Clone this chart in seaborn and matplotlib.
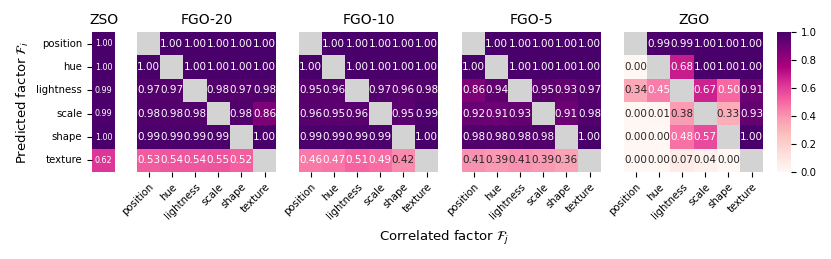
import numpy as np
import matplotlib
matplotlib.use("Agg")
import matplotlib.pyplot as plt
import seaborn as sns

factors = ["position", "hue", "lightness", "scale", "shape", "texture"]
nan = np.nan

zso = [1.00, 1.00, 0.99, 0.99, 1.00, 0.62]

fgo_20 = [
    [nan, 1.00, 1.00, 1.00, 1.00, 1.00],
    [1.00, nan, 1.00, 1.00, 1.00, 1.00],
    [0.97, 0.97, nan, 0.98, 0.97, 0.98],
    [0.98, 0.98, 0.98, nan, 0.98, 0.86],
    [0.99, 0.99, 0.99, 0.99, nan, 1.00],
    [0.53, 0.54, 0.54, 0.55, 0.52, nan],
]

fgo_10 = [
    [nan, 1.00, 1.00, 1.00, 1.00, 1.00],
    [1.00, nan, 1.00, 1.00, 1.00, 1.00],
    [0.95, 0.96, nan, 0.97, 0.96, 0.98],
    [0.96, 0.95, 0.96, nan, 0.95, 0.99],
    [0.99, 0.99, 0.99, 0.99, nan, 1.00],
    [0.46, 0.47, 0.51, 0.49, 0.42, nan],
]

fgo_5 = [
    [nan, 1.00, 1.00, 1.00, 1.00, 1.00],
    [1.00, nan, 1.00, 1.00, 1.00, 1.00],
    [0.86, 0.94, nan, 0.95, 0.93, 0.97],
    [0.92, 0.91, 0.93, nan, 0.91, 0.98],
    [0.98, 0.98, 0.98, 0.98, nan, 1.00],
    [0.41, 0.39, 0.41, 0.39, 0.36, nan],
]

zgo = [
    [nan, 0.99, 0.99, 1.00, 1.00, 1.00],
    [0.00, nan, 0.68, 1.00, 1.00, 1.00],
    [0.34, 0.45, nan, 0.67, 0.50, 0.91],
    [0.00, 0.01, 0.38, nan, 0.33, 0.93],
    [0.00, 0.00, 0.48, 0.57, nan, 1.00],
    [0.00, 0.00, 0.07, 0.04, 0.00, nan],
]

panels = [("FGO-20", fgo_20), ("FGO-10", fgo_10), ("FGO-5", fgo_5), ("ZGO", zgo)]

fig = plt.figure(figsize=(8.31, 2.59), dpi=100)

bottom, height = 0.336, 0.54
cell_w = 23.2 / 831

# ZSO single column
ax0 = fig.add_axes([0.1107, bottom, cell_w, height])
sns.heatmap(np.array(zso).reshape(-1, 1), ax=ax0, cmap="RdPu", vmin=0, vmax=1,
            annot=True, fmt=".2f", annot_kws={"fontsize": 5.8}, cbar=False,
            xticklabels=False, yticklabels=factors)
ax0.set_title("ZSO", fontsize=10)
ax0.tick_params(axis="y", labelsize=7.3, length=3.5, width=0.8, left=True)
ax0.set_yticklabels(factors, rotation=0)
ax0.set_ylabel(r"Predicted factor $\mathcal{F}_i$", fontsize=9.5)

lefts = [137 / 831, 299 / 831, 462 / 831, 624 / 831]
cax = fig.add_axes([777 / 831, bottom, 14 / 831, height])

for i, ((name, vals), left) in enumerate(zip(panels, lefts)):
    ax = fig.add_axes([left, bottom, 6 * cell_w, height])
    ax.set_facecolor("lightgray")
    last = i == len(panels) - 1
    sns.heatmap(np.array(vals), ax=ax, cmap="RdPu", vmin=0, vmax=1,
                annot=True, fmt=".2f", annot_kws={"fontsize": 7.5},
                cbar=last, cbar_ax=cax if last else None,
                xticklabels=factors, yticklabels=False)
    ax.set_title(name, fontsize=10)
    ax.tick_params(axis="x", labelsize=7.3, length=3.5, width=0.8, bottom=True)
    ax.set_xticklabels(factors, rotation=45, ha="right", rotation_mode="anchor")

cax.tick_params(labelsize=7.3, length=3.5, width=0.8, right=True)
cax.set_yticks([0, 0.2, 0.4, 0.6, 0.8, 1.0])
cax.set_yticklabels(["0.0", "0.2", "0.4", "0.6", "0.8", "1.0"])

fig.text(0.535, 0.07, r"Correlated factor $\mathcal{F}_j$", fontsize=9.5, ha="center")

fig.savefig("out.png", dpi=100)
